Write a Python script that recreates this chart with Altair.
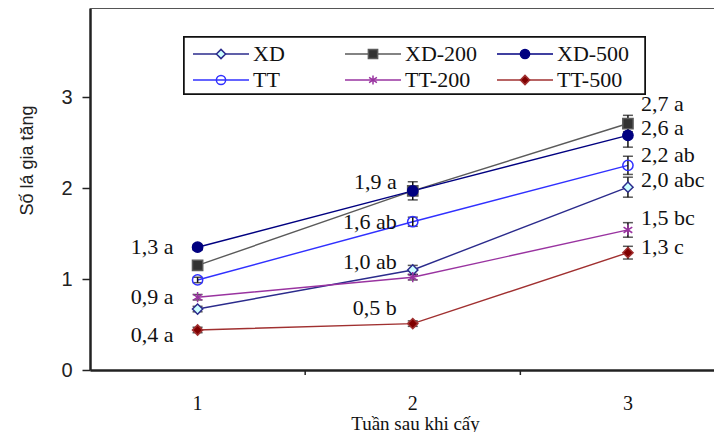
import altair as alt
import pandas as pd

weeks = [1, 2, 3]
week_labels = ["1", "2", "3"]
tick_marks = [1.5, 2.5]
series = ["XD", "XD-200", "XD-500", "TT", "TT-200", "TT-500"]
values = {
    "XD": [0.67, 1.10, 2.01],
    "XD-200": [1.15, 1.97, 2.71],
    "XD-500": [1.35, 1.97, 2.58],
    "TT": [0.99, 1.63, 2.25],
    "TT-200": [0.80, 1.02, 1.54],
    "TT-500": [0.44, 0.51, 1.29],
}
errors = {
    "XD": [0.03, 0.05, 0.11],
    "XD-200": [0.03, 0.05, 0.09],
    "XD-500": [0.03, 0.10, 0.13],
    "TT": [0.03, 0.05, 0.10],
    "TT-200": [0.03, 0.03, 0.08],
    "TT-500": [0.03, 0.03, 0.07],
}
label_week = [1, 1, 1, 2, 2, 2, 2, 3, 3, 3, 3, 3, 3]
label_text = ["1,3 a", "0,9 a", "0,4 a", "1,9 a", "1,6 ab", "1,0 ab", "0,5 b",
              "2,7 a", "2,6 a", "2,2 ab", "2,0 abc", "1,5 bc", "1,3 c"]
label_y = [1.35, 0.80, 0.385, 2.07, 1.63, 1.19, 0.68,
           2.93, 2.66, 2.36, 2.09, 1.67, 1.35]

line_colors = ["#2B2B8C", "#5A5A5A", "#000080", "#3030FF", "#9933A0", "#A03030"]
fill_colors = ["#CCFFFF", "#333333", "#000080", "transparent", "transparent", "#800000"]
asterisk = "M0,-1L0,1M-0.85,-0.55L0.85,0.55M-0.85,0.55L0.85,-0.55"
shapes = ["diamond", "square", "circle", "circle", asterisk, "diamond"]

W, H = 624, 362
SERIF = "Liberation Serif"
SANS = "Liberation Sans"

rows = []
for s in series:
    for i, w in enumerate(weeks):
        v = values[s][i]
        e = errors[s][i]
        rows.append({"series": s, "week": w, "value": v, "lo": v - e, "hi": v + e})
df = pd.DataFrame(rows)

lab = pd.DataFrame({"week": label_week, "text": label_text, "ly": label_y})
ticks_df = pd.DataFrame({"t": tick_marks})
wk_df = pd.DataFrame({"week": weeks, "lbl": week_labels})

xs = alt.Scale(domain=[0.5, 3.4], nice=False, zero=False)
ys = alt.Scale(domain=[0, 3.98], nice=False)
stroke_scale = alt.Scale(domain=series, range=line_colors)
fill_scale = alt.Scale(domain=series, range=fill_colors)
shape_scale = alt.Scale(domain=series, range=shapes)

x_axis = alt.Axis(
    values=weeks, grid=False, ticks=False, labels=False,
    domainColor="#222", domainWidth=2.5,
    title="Tuần sau khi cấy", titleFont=SERIF, titleFontSize=19, titleFontWeight="normal",
    titleColor="#111", titleX=325, titleY=53, titleBaseline="middle",
)
y_axis = alt.Axis(
    values=[0, 1, 2, 3], format="d", grid=False,
    tickSize=8, tickColor="#222", tickWidth=1.5,
    domainColor="#222", domainWidth=2.5,
    labelFont=SANS, labelFontSize=20, labelColor="#222", labelPadding=10,
    title="Số lá gia tăng", titleFont=SANS, titleFontSize=18, titleFontWeight="normal",
    titleColor="#222", titleX=-63, titleY=152, titleAngle=-90,
    titleAlign="center", titleBaseline="middle",
)

base = alt.Chart(df)
X = alt.X("week:Q", scale=xs, axis=x_axis)
Y = alt.Y("value:Q", scale=ys, axis=y_axis)

lines = base.mark_line(strokeWidth=1.4).encode(
    x=X, y=Y,
    stroke=alt.Stroke("series:N", scale=stroke_scale, legend=None),
    detail="series:N",
)
x_ticks = alt.Chart(ticks_df).mark_rule(color="#222", strokeWidth=1.5).encode(
    x=alt.X("t:Q", scale=xs), y=alt.value(H), y2=alt.value(H + 5))
x_labels = alt.Chart(wk_df).mark_text(
    font=SERIF, fontSize=20, color="#111", baseline="middle"
).encode(x=alt.X("week:Q", scale=xs), y=alt.value(H + 34), text="lbl:N")
err_rule = base.mark_rule(color="#111", strokeWidth=1.5).encode(
    x=alt.X("week:Q", scale=xs), y=alt.Y("lo:Q", scale=ys), y2="hi:Q")
cap_lo = base.mark_tick(color="#111", thickness=1.5, size=10, orient="horizontal").encode(
    x=alt.X("week:Q", scale=xs), y=alt.Y("lo:Q", scale=ys))
cap_hi = base.mark_tick(color="#111", thickness=1.5, size=10, orient="horizontal").encode(
    x=alt.X("week:Q", scale=xs), y=alt.Y("hi:Q", scale=ys))
points = base.mark_point(filled=False, size=105, strokeWidth=1.5, opacity=1).encode(
    x=alt.X("week:Q", scale=xs), y=alt.Y("value:Q", scale=ys),
    stroke=alt.Stroke("series:N", scale=stroke_scale, legend=None),
    fill=alt.Fill("series:N", scale=fill_scale, legend=None),
    shape=alt.Shape("series:N", scale=shape_scale, legend=None),
)

def label_layer(w, align, dx):
    return alt.Chart(lab).transform_filter(f"datum.week == {w}").mark_text(
        font=SERIF, fontSize=22, color="#111", align=align, baseline="middle", dx=dx
    ).encode(x=alt.X("week:Q", scale=xs), y=alt.Y("ly:Q", scale=ys), text="text:N")

labels = label_layer(1, "right", -24) + label_layer(2, "right", -16) + label_layer(3, "left", 13)

top_border = alt.Chart(df).mark_rule(color="#555", strokeWidth=2).encode(
    x=alt.value(0), x2=alt.value(W), y=alt.value(0))

data_chart = alt.layer(lines, x_ticks, x_labels, err_rule, cap_lo, cap_hi, points,
                       labels, top_border)

# legend (drawn manually, three columns, two rows)
leg = pd.DataFrame({"series": series, "idx": list(range(len(series)))})
legbase = alt.Chart(leg).transform_calculate(
    col="datum.idx % 3", row="floor(datum.idx / 3)"
).transform_calculate(
    lx1="103 + 152 * datum.col", lx2="159 + 152 * datum.col",
    mx="131 + 152 * datum.col", tx="163 + 152 * datum.col",
    ly="46 + 26 * datum.row",
)
leg_box = alt.Chart(leg).mark_rect(fill="white", stroke="#111", strokeWidth=1.5).encode(
    x=alt.value(94), x2=alt.value(555), y=alt.value(29), y2=alt.value(86))
leg_lines = legbase.mark_rule(strokeWidth=1.5).encode(
    x=alt.X("lx1:Q", scale=None, axis=None), x2="lx2:Q",
    y=alt.Y("ly:Q", scale=None, axis=None),
    stroke=alt.Stroke("series:N", scale=stroke_scale, legend=None),
)
leg_pts = legbase.mark_point(filled=False, size=85, strokeWidth=1.5, opacity=1).encode(
    x=alt.X("mx:Q", scale=None, axis=None), y=alt.Y("ly:Q", scale=None, axis=None),
    stroke=alt.Stroke("series:N", scale=stroke_scale, legend=None),
    fill=alt.Fill("series:N", scale=fill_scale, legend=None),
    shape=alt.Shape("series:N", scale=shape_scale, legend=None),
)
leg_txt = legbase.mark_text(font=SERIF, fontSize=22, color="#111", align="left",
                            baseline="middle").encode(
    x=alt.X("tx:Q", scale=None, axis=None), y=alt.Y("ly:Q", scale=None, axis=None),
    text="series:N")
legend_chart = alt.layer(leg_box, leg_lines, leg_pts, leg_txt)

chart = alt.layer(data_chart, legend_chart).resolve_scale(
    x="independent", y="independent"
).properties(
    width=W, height=H,
    autosize=alt.AutoSizeParams(type="none"),
    padding={"left": 82, "top": 0, "right": 0, "bottom": 62},
).configure_view(stroke=None, clip=False).configure(background="white")

chart.save("out.html", embed_options={"renderer": "svg", "actions": False})
